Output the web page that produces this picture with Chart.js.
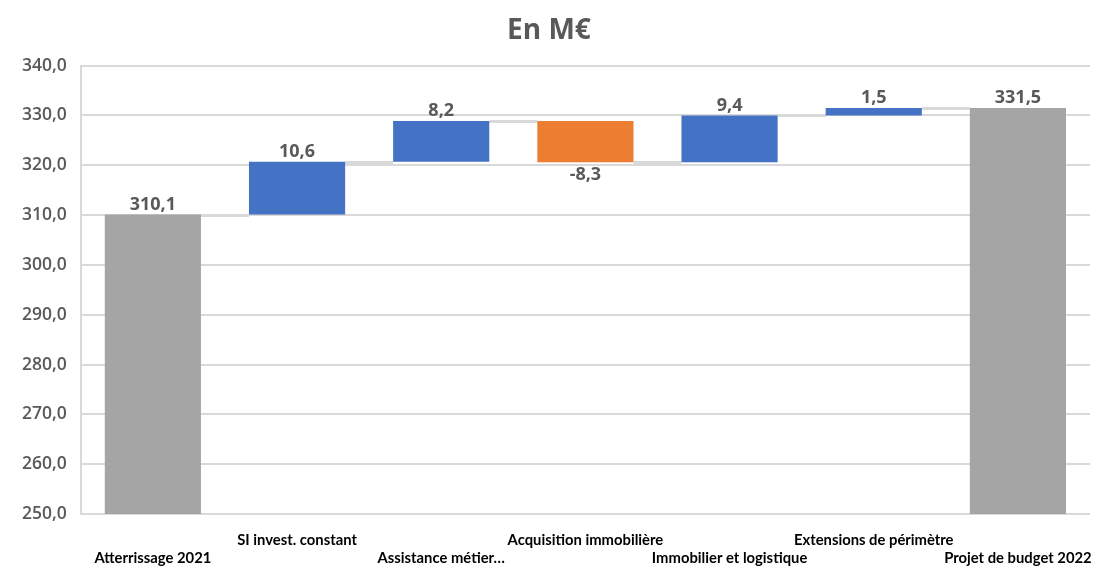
<!DOCTYPE html>
<html>
<head>
<meta charset="utf-8">
<script src="https://cdn.jsdelivr.net/npm/chart.js@4"></script>
<style>
  html, body { margin: 0; padding: 0; background: #ffffff; }
  #wrap { width: 1095px; height: 566px; position: relative; }
</style>
</head>
<body>
<div id="wrap"><canvas id="c"></canvas></div>
<script>
// Bridge from 2021 landing to 2022 budget draft (M€)
const categories = [
  'Atterrissage 2021',
  'SI invest. constant',
  'Assistance métier…',
  'Acquisition immobilière',
  'Immobilier et logistique',
  'Extensions de périmètre',
  'Projet de budget 2022'
];
// Totals for the first and last bars, variations in between
const values = [310.1, 10.6, 8.2, -8.3, 9.4, 1.5, 331.5];
const kinds = ['total', 'delta', 'delta', 'delta', 'delta', 'delta', 'total'];
const yTicks = { min: 250, max: 340, step: 10 };

const COLORS = { total: '#a5a5a5', up: '#4472c4', down: '#ed7d31' };

// Floating ranges and the running level reached after each bar
const ranges = [];
const levels = [];
let running = 0;
values.forEach((v, i) => {
  if (kinds[i] === 'total') {
    running = v;
    ranges.push([yTicks.min, v]);
  } else {
    ranges.push([running, running + v]);
    running += v;
  }
  levels.push(running);
});
const colors = values.map((v, i) => kinds[i] === 'total' ? COLORS.total : (v >= 0 ? COLORS.up : COLORS.down));

const fmt = v => v.toFixed(1).replace('.', ',');

// Grey connectors between consecutive bars
const connectors = {
  id: 'connectors',
  beforeDatasetsDraw(chart) {
    const { ctx, scales } = chart;
    const bars = chart.getDatasetMeta(0).data;
    ctx.save();
    ctx.strokeStyle = '#d9d9d9';
    ctx.lineWidth = 3;
    for (let i = 0; i < bars.length - 1; i++) {
      const y = Math.round(scales.y.getPixelForValue(levels[i])) + 0.5;
      const x0 = bars[i].x + bars[i].width / 2;
      const x1 = bars[i + 1].x - bars[i + 1].width / 2;
      ctx.beginPath();
      ctx.moveTo(x0, y);
      ctx.lineTo(x1, y);
      ctx.stroke();
    }
    ctx.restore();
  }
};

// Value labels: above rising/total bars, below falling ones
const valueLabels = {
  id: 'valueLabels',
  afterDatasetsDraw(chart) {
    const { ctx, scales } = chart;
    const bars = chart.getDatasetMeta(0).data;
    ctx.save();
    ctx.font = 'bold 18px "Open Sans", Lato, sans-serif';
    ctx.fillStyle = '#595959';
    ctx.textAlign = 'center';
    bars.forEach((bar, i) => {
      const [lo, hi] = ranges[i];
      if (values[i] >= 0) {
        ctx.textBaseline = 'bottom';
        ctx.fillText(fmt(values[i]), bar.x, scales.y.getPixelForValue(Math.max(lo, hi)) - 1);
      } else {
        ctx.textBaseline = 'top';
        ctx.fillText(fmt(values[i]), bar.x, scales.y.getPixelForValue(Math.min(lo, hi)) + 4);
      }
    });
    ctx.restore();
  }
};

new Chart(document.getElementById('c'), {
  type: 'bar',
  data: {
    labels: categories,
    datasets: [{
      data: ranges,
      backgroundColor: colors,
      borderWidth: 0,
      borderSkipped: false,
      barPercentage: 0.667,
      categoryPercentage: 1.0
    }]
  },
  options: {
    responsive: true,
    maintainAspectRatio: false,
    animation: false,
    layout: { padding: { left: 8, right: 5, top: 0, bottom: 0 } },
    plugins: {
      legend: { display: false },
      tooltip: { enabled: false },
      title: {
        display: true,
        text: 'En M€',
        color: '#595959',
        font: { family: '"Open Sans", Lato, sans-serif', size: 28, weight: 'bold', lineHeight: 1.2 },
        padding: { top: 14, bottom: 18 }
      }
    },
    scales: {
      x: {
        grid: { display: false, drawTicks: false },
        border: { display: false },
        ticks: {
          autoSkip: false,
          maxRotation: 0,
          minRotation: 0,
          color: '#000000',
          padding: 17,
          font: { family: 'Lato, "Open Sans", sans-serif', size: 14.8, weight: 'bold', lineHeight: '18px' },
          callback(value, index) {
            const label = categories[index];
            return index % 2 === 0 ? ['', label] : [label, ''];
          }
        },
        // fixed band for the two staggered label rows; edge labels may overhang
        afterFit(scale) {
          scale.height = 52;
          scale.paddingLeft = 0;
          scale.paddingRight = 0;
        }
      },
      y: {
        min: yTicks.min,
        max: yTicks.max,
        grid: { color: '#d9d9d9', lineWidth: 2, drawTicks: false },
        border: { display: true, color: '#d9d9d9', width: 2 },
        ticks: {
          stepSize: yTicks.step,
          color: '#595959',
          padding: 14,
          font: { family: '"Open Sans", Lato, sans-serif', size: 17.5, weight: '600' },
          callback: v => fmt(v)
        }
      }
    }
  },
  plugins: [connectors, valueLabels]
});
</script>
</body>
</html>
